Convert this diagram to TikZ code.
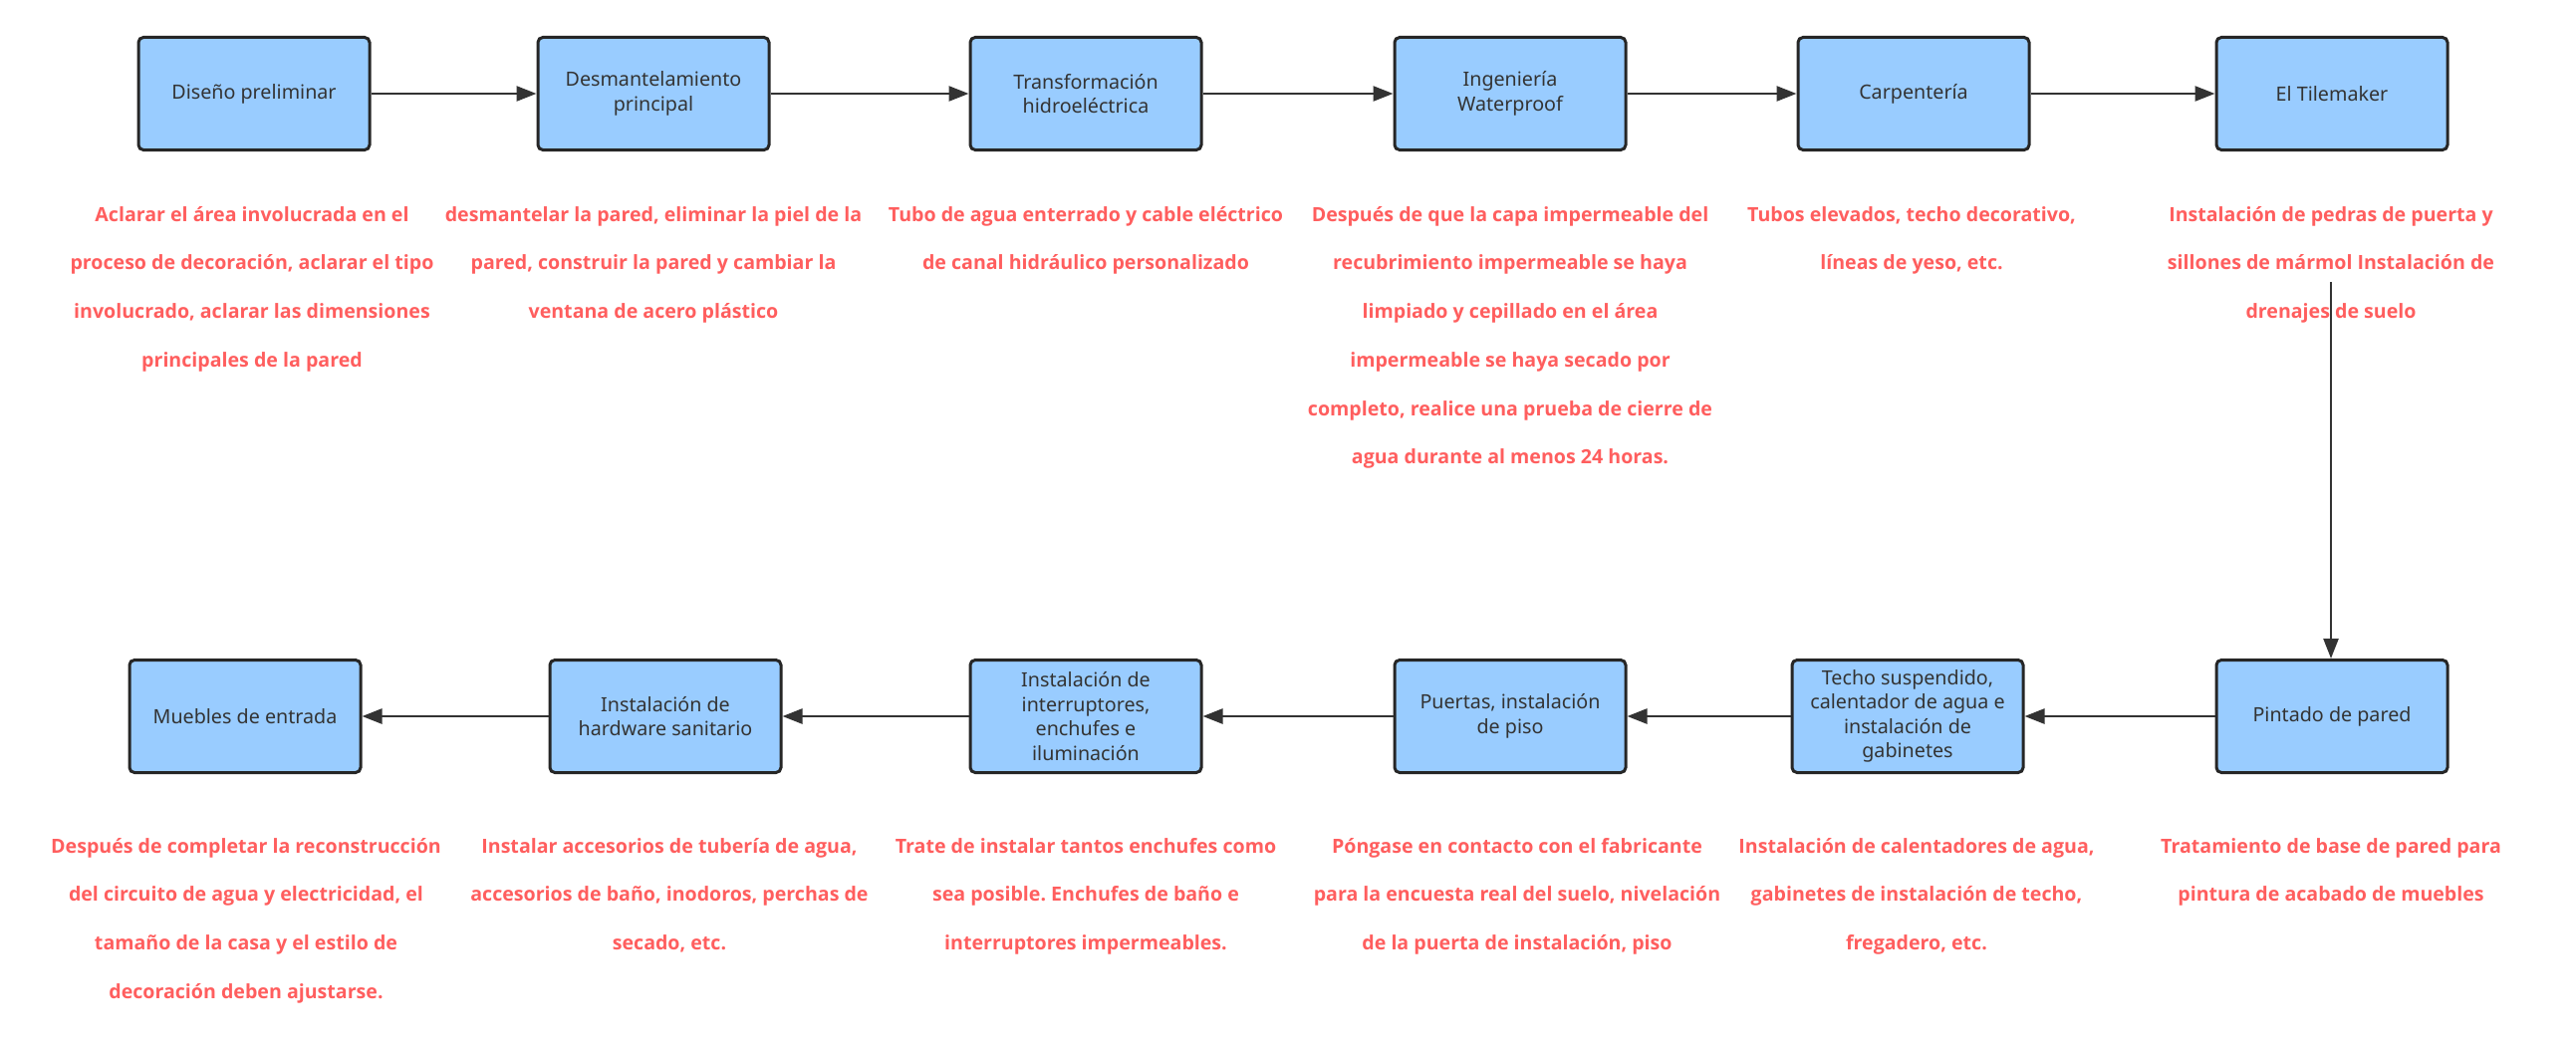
\documentclass[tikz,border=0pt]{standalone}
\usepackage{fontspec}
\setmainfont{Noto Sans}
\newfontfamily\descfont{Open Sans}
\usetikzlibrary{arrows.meta}
\frenchspacing
\definecolor{boxfill}{HTML}{99CCFF}
\definecolor{boxline}{HTML}{262626}
\definecolor{boxtext}{HTML}{333333}
\definecolor{desc}{HTML}{FF5E5E}
\definecolor{arrowc}{HTML}{333333}
\tikzset{
  stepbox/.style={draw=boxline, line width=3pt, fill=boxfill, rounded corners=5pt,
    minimum width=232pt, minimum height=113pt, inner sep=2pt, align=center,
    text=boxtext, font=\fontsize{19.7}{24.5}\selectfont},
  desctext/.style={anchor=north, inner sep=0pt, align=center, text=desc,
    font=\descfont\bfseries\fontsize{19.6}{48.7}\selectfont},
  conn/.style={draw=arrowc, line width=2.5pt, -{Triangle[length=20pt,width=15pt]}}
}
\newcommand{\fl}{\rule{0pt}{16pt}}
\begin{document}
\begin{tikzpicture}[x=1pt,y=-1pt]
\useasboundingbox (0,0) rectangle (2586,1057);
% top row
\node[stepbox] (t1) at (255,94) {Diseño preliminar};
\node[stepbox] (t2) at (656,94) {Desmantelamiento\\principal};
\node[stepbox] (t3) at (1090,94) {Transformación\\hidroeléctrica};
\node[stepbox] (t4) at (1516,94) {Ingeniería\\Waterproof};
\node[stepbox] (t5) at (1921,94) {Carpentería};
\node[stepbox] (t6) at (2341,94) {El Tilemaker};
% bottom row
\node[stepbox] (b1) at (246,719) {Muebles de entrada};
\node[stepbox] (b2) at (668,719) {Instalación de\\hardware sanitario};
\node[stepbox] (b3) at (1090,719) {Instalación de\\interruptores,\\enchufes e\\iluminación};
\node[stepbox] (b4) at (1516,719) {Puertas, instalación\\de piso};
\node[stepbox] (b5) at (1915,719) {Techo suspendido,\\calentador de agua e\\instalación de\\gabinetes};
\node[stepbox] (b6) at (2341,719) {Pintado de pared};
% descriptions top
\node[desctext] (d1) at (253,206) {\fl Aclarar el área involucrada en el\\proceso de decoración, aclarar el tipo\\involucrado, aclarar las dimensiones\\principales de la pared};
\node[desctext] (d2) at (656,206) {\fl desmantelar la pared, eliminar la piel de la\\pared, construir la pared y cambiar la\\ventana de acero plástico};
\node[desctext] (d3) at (1090,206) {\fl Tubo de agua enterrado y cable eléctrico\\de canal hidráulico personalizado};
\node[desctext] (d4) at (1516,206) {\fl Después de que la capa impermeable del\\recubrimiento impermeable se haya\\limpiado y cepillado en el área\\impermeable se haya secado por\\completo, realice una prueba de cierre de\\agua durante al menos 24 horas.};
\node[desctext] (d5) at (1919,206) {\fl Tubos elevados, techo decorativo,\\líneas de yeso, etc.};
\node[desctext] (d6) at (2340,206) {\fl Instalación de pedras de puerta y\\sillones de mármol Instalación de\\drenajes de suelo};
% descriptions bottom
\node[desctext] (e1) at (247,840) {\fl Después de completar la reconstrucción\\del circuito de agua y electricidad, el\\tamaño de la casa y el estilo de\\decoración deben ajustarse.};
\node[desctext] (e2) at (672,840) {\fl Instalar accesorios de tubería de agua,\\accesorios de baño, inodoros, perchas de\\secado, etc.};
\node[desctext] (e3) at (1090,840) {\fl Trate de instalar tantos enchufes como\\sea posible. Enchufes de baño e\\interruptores impermeables.};
\node[desctext] (e4) at (1523,840) {\fl Póngase en contacto con el fabricante\\para la encuesta real del suelo, nivelación\\de la puerta de instalación, piso};
\node[desctext] (e5) at (1924,840) {\fl Instalación de calentadores de agua,\\gabinetes de instalación de techo,\\fregadero, etc.};
\node[desctext] (e6) at (2340,840) {\fl Tratamiento de base de pared para\\pintura de acabado de muebles};
% connectors
\draw[conn] (t1) -- (t2);
\draw[conn] (t2) -- (t3);
\draw[conn] (t3) -- (t4);
\draw[conn] (t4) -- (t5);
\draw[conn] (t5) -- (t6);
\coordinate (vs) at (2340,283);
\draw[conn] (vs) -- (vs |- b6.north);
\draw[conn] (b6) -- (b5);
\draw[conn] (b5) -- (b4);
\draw[conn] (b4) -- (b3);
\draw[conn] (b3) -- (b2);
\draw[conn] (b2) -- (b1);
\end{tikzpicture}
\end{document}
